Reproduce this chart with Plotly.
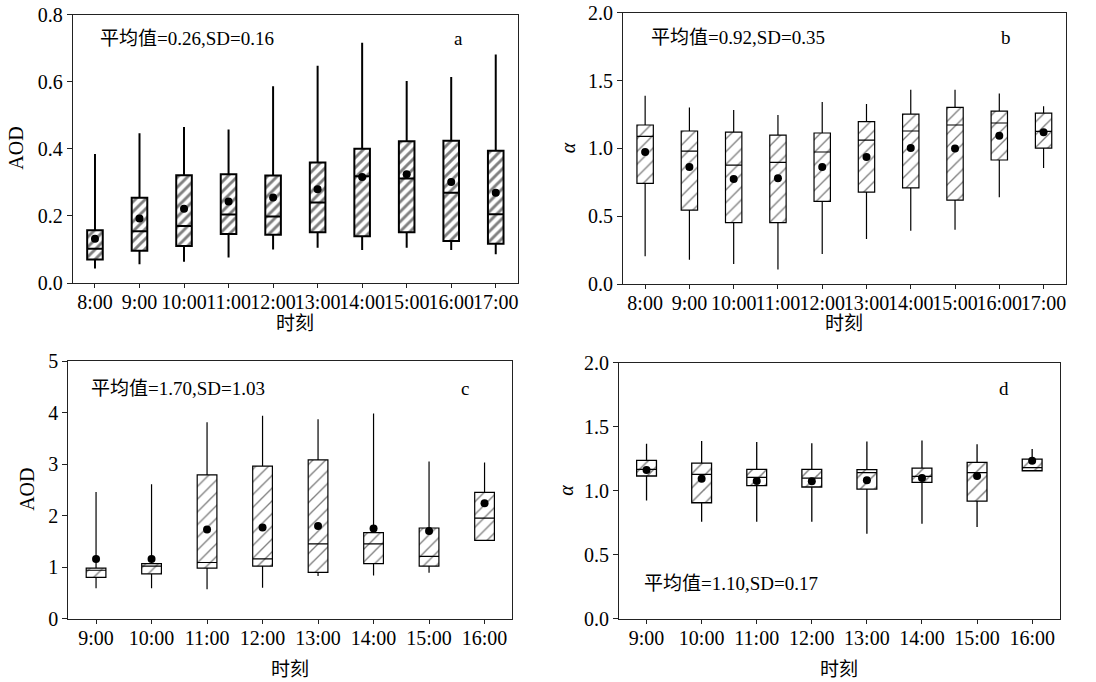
import plotly.graph_objects as go

W, H = 1096, 682

# ---------------- data ----------------
hours_ab = ["8:00", "9:00", "10:00", "11:00", "12:00", "13:00", "14:00", "15:00", "16:00", "17:00"]
hours_cd = ["9:00", "10:00", "11:00", "12:00", "13:00", "14:00", "15:00", "16:00"]

# panel a : AOD
a_low = [0.043, 0.056, 0.063, 0.076, 0.100, 0.105, 0.098, 0.105, 0.098, 0.086]
a_q1 = [0.070, 0.096, 0.110, 0.146, 0.144, 0.151, 0.139, 0.151, 0.125, 0.117]
a_med = [0.102, 0.154, 0.170, 0.204, 0.198, 0.240, 0.318, 0.311, 0.269, 0.205]
a_q3 = [0.157, 0.254, 0.321, 0.324, 0.320, 0.359, 0.400, 0.422, 0.424, 0.394]
a_high = [0.384, 0.446, 0.465, 0.457, 0.586, 0.647, 0.716, 0.602, 0.614, 0.681]
a_mean = [0.132, 0.192, 0.221, 0.243, 0.255, 0.279, 0.316, 0.324, 0.301, 0.269]

# panel b : alpha
b_low = [0.204, 0.179, 0.147, 0.106, 0.221, 0.332, 0.393, 0.400, 0.639, 0.855]
b_q1 = [0.742, 0.545, 0.452, 0.452, 0.609, 0.678, 0.708, 0.619, 0.914, 1.002]
b_med = [1.088, 0.980, 0.877, 0.897, 0.973, 1.061, 1.128, 1.172, 1.187, 1.125]
b_q3 = [1.172, 1.128, 1.120, 1.098, 1.113, 1.197, 1.253, 1.302, 1.275, 1.260]
b_high = [1.388, 1.302, 1.283, 1.246, 1.342, 1.327, 1.432, 1.432, 1.405, 1.310]
b_mean = [0.973, 0.862, 0.774, 0.779, 0.862, 0.936, 1.002, 0.998, 1.093, 1.118]

# panel c : AOD
c_low = [0.59, 0.59, 0.57, 0.60, 0.83, 0.84, 0.89, 1.52]
c_q1 = [0.80, 0.87, 0.98, 1.02, 0.90, 1.07, 1.02, 1.52]
c_med = [0.94, 1.02, 1.09, 1.16, 1.45, 1.45, 1.21, 1.95]
c_q3 = [0.98, 1.07, 2.79, 2.96, 3.08, 1.67, 1.76, 2.45]
c_high = [2.46, 2.61, 3.81, 3.94, 3.87, 3.98, 3.05, 3.03]
c_mean = [1.16, 1.16, 1.73, 1.77, 1.80, 1.75, 1.70, 2.24]

# panel d : alpha
d_low = [0.924, 0.758, 0.758, 0.758, 0.664, 0.742, 0.716, 1.156]
d_q1 = [1.115, 0.906, 1.039, 1.029, 1.013, 1.065, 0.919, 1.156]
d_med = [1.167, 1.128, 1.104, 1.099, 1.141, 1.112, 1.141, 1.180]
d_q3 = [1.237, 1.216, 1.167, 1.167, 1.164, 1.177, 1.221, 1.247]
d_high = [1.367, 1.388, 1.380, 1.370, 1.385, 1.393, 1.362, 1.326]
d_mean = [1.161, 1.094, 1.076, 1.073, 1.081, 1.099, 1.115, 1.234]

stats_text = ["平均值=0.26,SD=0.16", "平均值=0.92,SD=0.35", "平均值=1.70,SD=1.03", "平均值=1.10,SD=0.17"]
panel_letters = ["a", "b", "c", "d"]

FONT = "Liberation Serif, Times New Roman, Noto Sans CJK SC, serif"

# ---------------- layout geometry (pixels) ----------------
def px_x(v):
    return v / W

def px_y(v):
    return 1 - v / H

panels = [
    dict(x0=72.7, x1=518.0, y0=14.5, y1=283.0),
    dict(x0=623.0, x1=1065.7, y0=12.7, y1=284.0),
    dict(x0=68.3, x1=512.3, y0=361.0, y1=618.7),
    dict(x0=619.0, x1=1059.7, y0=362.7, y1=618.7),
]

fig = go.Figure()

series = [
    (hours_ab, a_low, a_q1, a_med, a_q3, a_high, a_mean, [0, 0.8], 0.2, "AOD", ".1f"),
    (hours_ab, b_low, b_q1, b_med, b_q3, b_high, b_mean, [0, 2.0], 0.5, "α", ".1f"),
    (hours_cd, c_low, c_q1, c_med, c_q3, c_high, c_mean, [0, 5], 1, "AOD", "d"),
    (hours_cd, d_low, d_q1, d_med, d_q3, d_high, d_mean, [0, 2.0], 0.5, "α", ".1f"),
]

styles = [
    dict(lw=2.0, psize=7, psol=0.42, bw=0.35),
    dict(lw=1.2, psize=9, psol=0.15, bw=0.37),
    dict(lw=1.2, psize=9, psol=0.15, bw=0.355),
    dict(lw=1.3, psize=10, psol=0.15, bw=0.36),
]

for i, (cats, lo, q1, med, q3, hi, mean, yr, dt, ytitle, fmt) in enumerate(series):
    n = i + 1
    xa = "x" if n == 1 else f"x{n}"
    ya = "y" if n == 1 else f"y{n}"
    st = styles[i]
    # hatched fill of the boxes (interquartile range)
    fig.add_trace(go.Bar(
        x=cats, y=[b - a for a, b in zip(q1, q3)], base=q1, width=st["bw"],
        marker=dict(color="white", line=dict(width=0),
                    pattern=dict(shape="/", fgcolor="black", bgcolor="white",
                                 size=st["psize"], solidity=st["psol"])),
        xaxis=xa, yaxis=ya, showlegend=False, hoverinfo="skip"))
    # box outline, median and whiskers
    fig.add_trace(go.Box(
        x=cats, q1=q1, median=med, q3=q3, lowerfence=lo, upperfence=hi,
        width=st["bw"], whiskerwidth=0, fillcolor="rgba(0,0,0,0)",
        line=dict(color="black", width=st["lw"]),
        boxpoints=False, xaxis=xa, yaxis=ya, showlegend=False))
    # mean dots
    fig.add_trace(go.Scatter(
        x=cats, y=mean, mode="markers",
        marker=dict(color="black", size=8),
        xaxis=xa, yaxis=ya, showlegend=False))

    p = panels[i]
    axis_common = dict(
        showline=True, linecolor="#222", linewidth=1, mirror=True,
        ticks="outside", ticklen=5, tickcolor="#222", tickwidth=1,
        showgrid=False, zeroline=False, automargin=False,
        tickfont=dict(family=FONT, size=20, color="black"),
    )
    fig.update_layout(**{
        ("xaxis" if n == 1 else f"xaxis{n}"): dict(
            axis_common, domain=[px_x(p["x0"]), px_x(p["x1"])],
            anchor=ya, type="category", range=[-0.5, len(cats) - 0.5],
            categoryorder="array", categoryarray=cats, ticklen=4,
            tickangle=0, ticklabelstandoff=-3),
        ("yaxis" if n == 1 else f"yaxis{n}"): dict(
            axis_common, domain=[px_y(p["y1"]), px_y(p["y0"])],
            anchor=xa, range=yr, dtick=dt, tick0=0, tickformat=fmt),
    })

    # axis titles
    cx = (p["x0"] + p["x1"]) / 2
    cy = (p["y0"] + p["y1"]) / 2
    ytx = [16, 568, 27, 566][i]
    fig.add_annotation(
        x=px_x(ytx), y=px_y(cy), xref="paper", yref="paper",
        xanchor="center", yanchor="middle",
        text=ytitle if ytitle == "AOD" else "<i>α</i>", textangle=-90,
        showarrow=False, font=dict(family=FONT, size=20, color="black"))
    xty = [323, 323, 669, 669][i]
    fig.add_annotation(
        x=px_x(cx), y=px_y(xty), xref="paper", yref="paper",
        xanchor="center", yanchor="middle",
        text="时刻", showarrow=False,
        font=dict(family=FONT, size=19, color="black"))

# in-panel texts
stat_pos = [(98, 39), (649, 38), (89, 388), (642, 583)]
letter_pos = [(458, 39), (1006, 38), (465, 388), (1004, 388)]
for i in range(4):
    sx, sy = stat_pos[i]
    fig.add_annotation(x=px_x(sx), y=px_y(sy), xref="paper", yref="paper",
                       text=stats_text[i], showarrow=False,
                       xanchor="left", yanchor="middle",
                       font=dict(family=FONT, size=19, color="black"))
    lx, ly = letter_pos[i]
    fig.add_annotation(x=px_x(lx), y=px_y(ly), xref="paper", yref="paper",
                       text=panel_letters[i], showarrow=False,
                       xanchor="center", yanchor="middle",
                       font=dict(family=FONT, size=19, color="black"))

fig.update_layout(
    width=W, height=H,
    margin=dict(l=0, r=0, t=0, b=0),
    paper_bgcolor="white", plot_bgcolor="white",
    barmode="overlay", boxmode="overlay",
    showlegend=False,
)

fig.write_html("out.html", config={"displayModeBar": False},
               post_script="document.body.style.margin='0px';")
